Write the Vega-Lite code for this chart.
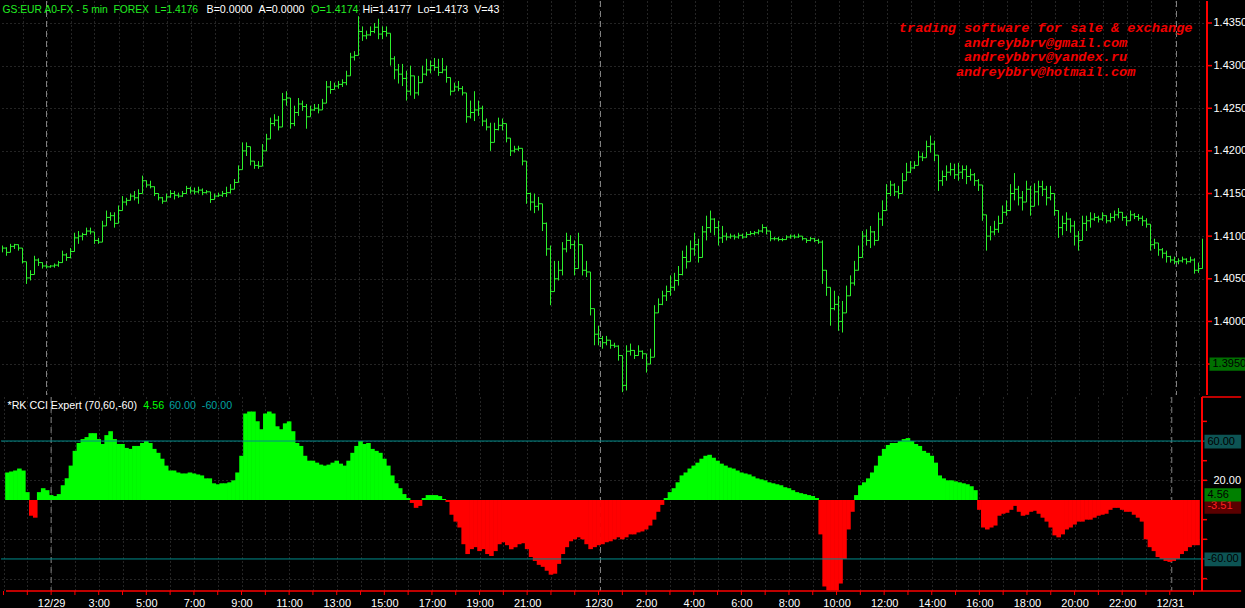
{
"$schema": "https://vega.github.io/schema/vega-lite/v6.json",
"background": "#000000",
"padding": 0,
"spacing": 0,
"config": {"view": {"stroke": null}, "font": "Liberation Sans"},
"datasets": {
"days": [{"t":"2009-12-29T01:00Z"},{"t":"2009-12-30T00:05Z"},{"t":"2009-12-31T00:05Z"}],
"levels": [{"v":60},{"v":-60}],
"pticks": [{"v":1.395},{"v":1.4},{"v":1.405},{"v":1.41},{"v":1.415},{"v":1.42},{"v":1.425},{"v":1.43},{"v":1.435}],
"cticks": [{"v":-80},{"v":-40},{"v":-20},{"v":20},{"v":40},{"v":80}],
"hours": [
{"t":"2009-12-28T23:00Z"},
{"t":"2009-12-29T00:00Z"},{"t":"2009-12-29T01:00Z"},{"t":"2009-12-29T02:00Z"},{"t":"2009-12-29T03:00Z"},{"t":"2009-12-29T04:00Z"},{"t":"2009-12-29T05:00Z"},
{"t":"2009-12-29T06:00Z"},{"t":"2009-12-29T07:00Z"},{"t":"2009-12-29T08:00Z"},{"t":"2009-12-29T09:00Z"},{"t":"2009-12-29T10:00Z"},{"t":"2009-12-29T11:00Z"},
{"t":"2009-12-29T12:00Z"},{"t":"2009-12-29T13:00Z"},{"t":"2009-12-29T14:00Z"},{"t":"2009-12-29T15:00Z"},{"t":"2009-12-29T16:00Z"},{"t":"2009-12-29T17:00Z"},
{"t":"2009-12-29T18:00Z"},{"t":"2009-12-29T19:00Z"},{"t":"2009-12-29T20:00Z"},{"t":"2009-12-29T21:00Z"},{"t":"2009-12-29T22:00Z"},{"t":"2009-12-29T23:00Z"},
{"t":"2009-12-30T00:00Z"},{"t":"2009-12-30T01:00Z"},{"t":"2009-12-30T02:00Z"},{"t":"2009-12-30T03:00Z"},{"t":"2009-12-30T04:00Z"},{"t":"2009-12-30T05:00Z"},
{"t":"2009-12-30T06:00Z"},{"t":"2009-12-30T07:00Z"},{"t":"2009-12-30T08:00Z"},{"t":"2009-12-30T09:00Z"},{"t":"2009-12-30T10:00Z"},{"t":"2009-12-30T11:00Z"},
{"t":"2009-12-30T12:00Z"},{"t":"2009-12-30T13:00Z"},{"t":"2009-12-30T14:00Z"},{"t":"2009-12-30T15:00Z"},{"t":"2009-12-30T16:00Z"},{"t":"2009-12-30T17:00Z"},
{"t":"2009-12-30T18:00Z"},{"t":"2009-12-30T19:00Z"},{"t":"2009-12-30T20:00Z"},{"t":"2009-12-30T21:00Z"},{"t":"2009-12-30T22:00Z"},{"t":"2009-12-30T23:00Z"},
{"t":"2009-12-31T00:00Z"},{"t":"2009-12-31T01:00Z"}
],
"bars": [
{"t":"2009-12-28T23:10Z","l":1.4081,"h":1.4089,"c":1.4086,"cci":28},
{"t":"2009-12-28T23:20Z","l":1.4077,"h":1.4087,"c":1.4081,"cci":29},
{"t":"2009-12-28T23:30Z","l":1.4083,"h":1.4091,"c":1.4088,"cci":30},
{"t":"2009-12-28T23:40Z","l":1.4085,"h":1.4091,"c":1.4090,"cci":32},
{"t":"2009-12-28T23:50Z","l":1.4083,"h":1.4090,"c":1.4086,"cci":30},
{"t":"2009-12-29T00:00Z","l":1.4068,"h":1.4086,"c":1.4070,"cci":8},
{"t":"2009-12-29T00:10Z","l":1.4044,"h":1.4064,"c":1.4051,"cci":-16},
{"t":"2009-12-29T00:20Z","l":1.4048,"h":1.4060,"c":1.4055,"cci":-18},
{"t":"2009-12-29T00:30Z","l":1.4060,"h":1.4077,"c":1.4072,"cci":8},
{"t":"2009-12-29T00:40Z","l":1.4065,"h":1.4074,"c":1.4069,"cci":12},
{"t":"2009-12-29T00:50Z","l":1.4062,"h":1.4069,"c":1.4065,"cci":10},
{"t":"2009-12-29T01:00Z","l":1.4062,"h":1.4067,"c":1.4064,"cci":5},
{"t":"2009-12-29T01:10Z","l":1.4063,"h":1.4066,"c":1.4065,"cci":4},
{"t":"2009-12-29T01:20Z","l":1.4063,"h":1.4068,"c":1.4066,"cci":6},
{"t":"2009-12-29T01:30Z","l":1.4064,"h":1.4071,"c":1.4069,"cci":15},
{"t":"2009-12-29T01:40Z","l":1.4069,"h":1.4083,"c":1.4078,"cci":22},
{"t":"2009-12-29T01:50Z","l":1.4071,"h":1.4080,"c":1.4075,"cci":35},
{"t":"2009-12-29T02:00Z","l":1.4074,"h":1.4086,"c":1.4082,"cci":50},
{"t":"2009-12-29T02:10Z","l":1.4083,"h":1.4104,"c":1.4098,"cci":58},
{"t":"2009-12-29T02:20Z","l":1.4091,"h":1.4106,"c":1.4100,"cci":62},
{"t":"2009-12-29T02:30Z","l":1.4095,"h":1.4104,"c":1.4102,"cci":64},
{"t":"2009-12-29T02:40Z","l":1.4101,"h":1.4110,"c":1.4106,"cci":68},
{"t":"2009-12-29T02:50Z","l":1.4102,"h":1.4110,"c":1.4105,"cci":68},
{"t":"2009-12-29T03:00Z","l":1.4091,"h":1.4104,"c":1.4095,"cci":62},
{"t":"2009-12-29T03:10Z","l":1.4091,"h":1.4098,"c":1.4093,"cci":57},
{"t":"2009-12-29T03:20Z","l":1.4095,"h":1.4118,"c":1.4112,"cci":66},
{"t":"2009-12-29T03:30Z","l":1.4112,"h":1.4130,"c":1.4122,"cci":70},
{"t":"2009-12-29T03:40Z","l":1.4118,"h":1.4128,"c":1.4124,"cci":62},
{"t":"2009-12-29T03:50Z","l":1.4110,"h":1.4128,"c":1.4115,"cci":57},
{"t":"2009-12-29T04:00Z","l":1.4118,"h":1.4136,"c":1.4130,"cci":57},
{"t":"2009-12-29T04:10Z","l":1.4136,"h":1.4147,"c":1.4140,"cci":53},
{"t":"2009-12-29T04:20Z","l":1.4136,"h":1.4145,"c":1.4142,"cci":52},
{"t":"2009-12-29T04:30Z","l":1.4142,"h":1.4150,"c":1.4147,"cci":55},
{"t":"2009-12-29T04:40Z","l":1.4142,"h":1.4153,"c":1.4145,"cci":55},
{"t":"2009-12-29T04:50Z","l":1.4138,"h":1.4155,"c":1.4150,"cci":58},
{"t":"2009-12-29T05:00Z","l":1.4153,"h":1.4171,"c":1.4165,"cci":60},
{"t":"2009-12-29T05:10Z","l":1.4157,"h":1.4165,"c":1.4160,"cci":58},
{"t":"2009-12-29T05:20Z","l":1.4156,"h":1.4165,"c":1.4158,"cci":52},
{"t":"2009-12-29T05:30Z","l":1.4147,"h":1.4158,"c":1.4150,"cci":48},
{"t":"2009-12-29T05:40Z","l":1.4142,"h":1.4150,"c":1.4145,"cci":42},
{"t":"2009-12-29T05:50Z","l":1.4138,"h":1.4146,"c":1.4141,"cci":35},
{"t":"2009-12-29T06:00Z","l":1.4141,"h":1.4150,"c":1.4146,"cci":30},
{"t":"2009-12-29T06:10Z","l":1.4145,"h":1.4154,"c":1.4150,"cci":30},
{"t":"2009-12-29T06:20Z","l":1.4143,"h":1.4153,"c":1.4148,"cci":28},
{"t":"2009-12-29T06:30Z","l":1.4145,"h":1.4151,"c":1.4147,"cci":27},
{"t":"2009-12-29T06:40Z","l":1.4146,"h":1.4153,"c":1.4150,"cci":27},
{"t":"2009-12-29T06:50Z","l":1.4150,"h":1.4159,"c":1.4156,"cci":28},
{"t":"2009-12-29T07:00Z","l":1.4150,"h":1.4158,"c":1.4153,"cci":27},
{"t":"2009-12-29T07:10Z","l":1.4149,"h":1.4157,"c":1.4152,"cci":26},
{"t":"2009-12-29T07:20Z","l":1.4150,"h":1.4158,"c":1.4154,"cci":25},
{"t":"2009-12-29T07:30Z","l":1.4148,"h":1.4156,"c":1.4151,"cci":22},
{"t":"2009-12-29T07:40Z","l":1.4150,"h":1.4154,"c":1.4152,"cci":22},
{"t":"2009-12-29T07:50Z","l":1.4139,"h":1.4151,"c":1.4143,"cci":17},
{"t":"2009-12-29T08:00Z","l":1.4145,"h":1.4150,"c":1.4147,"cci":16},
{"t":"2009-12-29T08:10Z","l":1.4146,"h":1.4151,"c":1.4148,"cci":17},
{"t":"2009-12-29T08:20Z","l":1.4146,"h":1.4153,"c":1.4150,"cci":17},
{"t":"2009-12-29T08:30Z","l":1.4146,"h":1.4158,"c":1.4151,"cci":18},
{"t":"2009-12-29T08:40Z","l":1.4150,"h":1.4161,"c":1.4155,"cci":20},
{"t":"2009-12-29T08:50Z","l":1.4156,"h":1.4167,"c":1.4163,"cci":28},
{"t":"2009-12-29T09:00Z","l":1.4165,"h":1.4183,"c":1.4178,"cci":45},
{"t":"2009-12-29T09:10Z","l":1.4183,"h":1.4210,"c":1.4200,"cci":88},
{"t":"2009-12-29T09:20Z","l":1.4194,"h":1.4210,"c":1.4205,"cci":90},
{"t":"2009-12-29T09:30Z","l":1.4183,"h":1.4200,"c":1.4188,"cci":90},
{"t":"2009-12-29T09:40Z","l":1.4179,"h":1.4188,"c":1.4183,"cci":80},
{"t":"2009-12-29T09:50Z","l":1.4179,"h":1.4188,"c":1.4182,"cci":72},
{"t":"2009-12-29T10:00Z","l":1.4188,"h":1.4208,"c":1.4200,"cci":88},
{"t":"2009-12-29T10:10Z","l":1.4206,"h":1.4220,"c":1.4214,"cci":90},
{"t":"2009-12-29T10:20Z","l":1.4218,"h":1.4239,"c":1.4232,"cci":88},
{"t":"2009-12-29T10:30Z","l":1.4229,"h":1.4243,"c":1.4236,"cci":75},
{"t":"2009-12-29T10:40Z","l":1.4224,"h":1.4241,"c":1.4228,"cci":72},
{"t":"2009-12-29T10:50Z","l":1.4241,"h":1.4268,"c":1.4260,"cci":78},
{"t":"2009-12-29T11:00Z","l":1.4253,"h":1.4270,"c":1.4262,"cci":80},
{"t":"2009-12-29T11:10Z","l":1.4226,"h":1.4259,"c":1.4232,"cci":70},
{"t":"2009-12-29T11:20Z","l":1.4229,"h":1.4253,"c":1.4245,"cci":58},
{"t":"2009-12-29T11:30Z","l":1.4241,"h":1.4262,"c":1.4255,"cci":55},
{"t":"2009-12-29T11:40Z","l":1.4247,"h":1.4259,"c":1.4252,"cci":45},
{"t":"2009-12-29T11:50Z","l":1.4226,"h":1.4255,"c":1.4240,"cci":40},
{"t":"2009-12-29T12:00Z","l":1.4241,"h":1.4253,"c":1.4248,"cci":40},
{"t":"2009-12-29T12:10Z","l":1.4247,"h":1.4255,"c":1.4250,"cci":38},
{"t":"2009-12-29T12:20Z","l":1.4244,"h":1.4255,"c":1.4248,"cci":36},
{"t":"2009-12-29T12:30Z","l":1.4249,"h":1.4261,"c":1.4256,"cci":35},
{"t":"2009-12-29T12:40Z","l":1.4259,"h":1.4282,"c":1.4275,"cci":36},
{"t":"2009-12-29T12:50Z","l":1.4267,"h":1.4282,"c":1.4272,"cci":38},
{"t":"2009-12-29T13:00Z","l":1.4273,"h":1.4280,"c":1.4276,"cci":40},
{"t":"2009-12-29T13:10Z","l":1.4273,"h":1.4282,"c":1.4278,"cci":37},
{"t":"2009-12-29T13:20Z","l":1.4275,"h":1.4284,"c":1.4280,"cci":35},
{"t":"2009-12-29T13:30Z","l":1.4277,"h":1.4294,"c":1.4288,"cci":40},
{"t":"2009-12-29T13:40Z","l":1.4300,"h":1.4315,"c":1.4310,"cci":48},
{"t":"2009-12-29T13:50Z","l":1.4306,"h":1.4317,"c":1.4312,"cci":55},
{"t":"2009-12-29T14:00Z","l":1.4317,"h":1.4358,"c":1.4340,"cci":60},
{"t":"2009-12-29T14:10Z","l":1.4329,"h":1.4346,"c":1.4335,"cci":57},
{"t":"2009-12-29T14:20Z","l":1.4331,"h":1.4341,"c":1.4336,"cci":58},
{"t":"2009-12-29T14:30Z","l":1.4335,"h":1.4346,"c":1.4340,"cci":52},
{"t":"2009-12-29T14:40Z","l":1.4338,"h":1.4350,"c":1.4345,"cci":50},
{"t":"2009-12-29T14:50Z","l":1.4331,"h":1.4355,"c":1.4337,"cci":48},
{"t":"2009-12-29T15:00Z","l":1.4331,"h":1.4346,"c":1.4340,"cci":42},
{"t":"2009-12-29T15:10Z","l":1.4334,"h":1.4346,"c":1.4338,"cci":35},
{"t":"2009-12-29T15:20Z","l":1.4300,"h":1.4327,"c":1.4308,"cci":25},
{"t":"2009-12-29T15:30Z","l":1.4284,"h":1.4311,"c":1.4295,"cci":17},
{"t":"2009-12-29T15:40Z","l":1.4279,"h":1.4302,"c":1.4290,"cci":12},
{"t":"2009-12-29T15:50Z","l":1.4276,"h":1.4302,"c":1.4285,"cci":6},
{"t":"2009-12-29T16:00Z","l":1.4259,"h":1.4294,"c":1.4270,"cci":2},
{"t":"2009-12-29T16:10Z","l":1.4265,"h":1.4300,"c":1.4288,"cci":-3},
{"t":"2009-12-29T16:20Z","l":1.4261,"h":1.4288,"c":1.4268,"cci":-8},
{"t":"2009-12-29T16:30Z","l":1.4265,"h":1.4288,"c":1.4280,"cci":-6},
{"t":"2009-12-29T16:40Z","l":1.4282,"h":1.4300,"c":1.4290,"cci":2},
{"t":"2009-12-29T16:50Z","l":1.4288,"h":1.4308,"c":1.4295,"cci":5},
{"t":"2009-12-29T17:00Z","l":1.4291,"h":1.4306,"c":1.4300,"cci":5},
{"t":"2009-12-29T17:10Z","l":1.4294,"h":1.4309,"c":1.4298,"cci":5},
{"t":"2009-12-29T17:20Z","l":1.4288,"h":1.4308,"c":1.4292,"cci":4},
{"t":"2009-12-29T17:30Z","l":1.4291,"h":1.4309,"c":1.4295,"cci":1},
{"t":"2009-12-29T17:40Z","l":1.4280,"h":1.4300,"c":1.4286,"cci":-2},
{"t":"2009-12-29T17:50Z","l":1.4265,"h":1.4282,"c":1.4270,"cci":-15},
{"t":"2009-12-29T18:00Z","l":1.4270,"h":1.4280,"c":1.4275,"cci":-22},
{"t":"2009-12-29T18:10Z","l":1.4270,"h":1.4282,"c":1.4273,"cci":-28},
{"t":"2009-12-29T18:20Z","l":1.4265,"h":1.4276,"c":1.4268,"cci":-45},
{"t":"2009-12-29T18:30Z","l":1.4233,"h":1.4253,"c":1.4240,"cci":-55},
{"t":"2009-12-29T18:40Z","l":1.4238,"h":1.4259,"c":1.4245,"cci":-50},
{"t":"2009-12-29T18:50Z","l":1.4235,"h":1.4270,"c":1.4248,"cci":-48},
{"t":"2009-12-29T19:00Z","l":1.4241,"h":1.4259,"c":1.4250,"cci":-52},
{"t":"2009-12-29T19:10Z","l":1.4229,"h":1.4253,"c":1.4235,"cci":-50},
{"t":"2009-12-29T19:20Z","l":1.4224,"h":1.4238,"c":1.4228,"cci":-55},
{"t":"2009-12-29T19:30Z","l":1.4200,"h":1.4233,"c":1.4210,"cci":-57},
{"t":"2009-12-29T19:40Z","l":1.4218,"h":1.4233,"c":1.4225,"cci":-52},
{"t":"2009-12-29T19:50Z","l":1.4224,"h":1.4239,"c":1.4230,"cci":-45},
{"t":"2009-12-29T20:00Z","l":1.4224,"h":1.4238,"c":1.4232,"cci":-43},
{"t":"2009-12-29T20:10Z","l":1.4210,"h":1.4229,"c":1.4215,"cci":-46},
{"t":"2009-12-29T20:20Z","l":1.4194,"h":1.4208,"c":1.4200,"cci":-50},
{"t":"2009-12-29T20:30Z","l":1.4198,"h":1.4206,"c":1.4202,"cci":-48},
{"t":"2009-12-29T20:40Z","l":1.4200,"h":1.4206,"c":1.4203,"cci":-45},
{"t":"2009-12-29T20:50Z","l":1.4183,"h":1.4202,"c":1.4188,"cci":-44},
{"t":"2009-12-29T21:00Z","l":1.4138,"h":1.4186,"c":1.4150,"cci":-50},
{"t":"2009-12-29T21:10Z","l":1.4130,"h":1.4151,"c":1.4140,"cci":-58},
{"t":"2009-12-29T21:20Z","l":1.4127,"h":1.4150,"c":1.4135,"cci":-62},
{"t":"2009-12-29T21:30Z","l":1.4130,"h":1.4146,"c":1.4138,"cci":-66},
{"t":"2009-12-29T21:40Z","l":1.4106,"h":1.4136,"c":1.4115,"cci":-68},
{"t":"2009-12-29T21:50Z","l":1.4077,"h":1.4116,"c":1.4085,"cci":-72},
{"t":"2009-12-29T22:00Z","l":1.4019,"h":1.4089,"c":1.4035,"cci":-76},
{"t":"2009-12-29T22:10Z","l":1.4036,"h":1.4071,"c":1.4050,"cci":-75},
{"t":"2009-12-29T22:20Z","l":1.4048,"h":1.4071,"c":1.4060,"cci":-65},
{"t":"2009-12-29T22:30Z","l":1.4054,"h":1.4093,"c":1.4085,"cci":-55},
{"t":"2009-12-29T22:40Z","l":1.4081,"h":1.4104,"c":1.4095,"cci":-48},
{"t":"2009-12-29T22:50Z","l":1.4085,"h":1.4101,"c":1.4090,"cci":-42},
{"t":"2009-12-29T23:00Z","l":1.4054,"h":1.4095,"c":1.4062,"cci":-40},
{"t":"2009-12-29T23:10Z","l":1.4069,"h":1.4104,"c":1.4090,"cci":-38},
{"t":"2009-12-29T23:20Z","l":1.4054,"h":1.4086,"c":1.4060,"cci":-40},
{"t":"2009-12-29T23:30Z","l":1.4052,"h":1.4071,"c":1.4058,"cci":-45},
{"t":"2009-12-29T23:40Z","l":1.4007,"h":1.4054,"c":1.4015,"cci":-50},
{"t":"2009-12-29T23:50Z","l":1.3972,"h":1.4013,"c":1.3985,"cci":-48},
{"t":"2009-12-30T00:00Z","l":1.3972,"h":1.3995,"c":1.3980,"cci":-46},
{"t":"2009-12-30T00:10Z","l":1.3968,"h":1.3983,"c":1.3975,"cci":-45},
{"t":"2009-12-30T00:20Z","l":1.3972,"h":1.3983,"c":1.3978,"cci":-43},
{"t":"2009-12-30T00:30Z","l":1.3968,"h":1.3978,"c":1.3972,"cci":-42},
{"t":"2009-12-30T00:40Z","l":1.3969,"h":1.3975,"c":1.3971,"cci":-40},
{"t":"2009-12-30T00:50Z","l":1.3954,"h":1.3972,"c":1.3960,"cci":-38},
{"t":"2009-12-30T01:00Z","l":1.3917,"h":1.3948,"c":1.3925,"cci":-40},
{"t":"2009-12-30T01:10Z","l":1.3919,"h":1.3972,"c":1.3965,"cci":-38},
{"t":"2009-12-30T01:20Z","l":1.3960,"h":1.3974,"c":1.3966,"cci":-35},
{"t":"2009-12-30T01:30Z","l":1.3956,"h":1.3966,"c":1.3960,"cci":-35},
{"t":"2009-12-30T01:40Z","l":1.3960,"h":1.3972,"c":1.3965,"cci":-33},
{"t":"2009-12-30T01:50Z","l":1.3956,"h":1.3966,"c":1.3962,"cci":-32},
{"t":"2009-12-30T02:00Z","l":1.3940,"h":1.3960,"c":1.3950,"cci":-30},
{"t":"2009-12-30T02:10Z","l":1.3954,"h":1.3968,"c":1.3958,"cci":-26},
{"t":"2009-12-30T02:20Z","l":1.3966,"h":1.4019,"c":1.4010,"cci":-20},
{"t":"2009-12-30T02:30Z","l":1.4011,"h":1.4027,"c":1.4020,"cci":-12},
{"t":"2009-12-30T02:40Z","l":1.4019,"h":1.4036,"c":1.4030,"cci":-5},
{"t":"2009-12-30T02:50Z","l":1.4024,"h":1.4042,"c":1.4035,"cci":2},
{"t":"2009-12-30T03:00Z","l":1.4030,"h":1.4054,"c":1.4040,"cci":8},
{"t":"2009-12-30T03:10Z","l":1.4036,"h":1.4057,"c":1.4048,"cci":12},
{"t":"2009-12-30T03:20Z","l":1.4042,"h":1.4065,"c":1.4055,"cci":18},
{"t":"2009-12-30T03:30Z","l":1.4054,"h":1.4083,"c":1.4075,"cci":25},
{"t":"2009-12-30T03:40Z","l":1.4062,"h":1.4089,"c":1.4070,"cci":28},
{"t":"2009-12-30T03:50Z","l":1.4071,"h":1.4095,"c":1.4085,"cci":32},
{"t":"2009-12-30T04:00Z","l":1.4077,"h":1.4104,"c":1.4090,"cci":35},
{"t":"2009-12-30T04:10Z","l":1.4069,"h":1.4097,"c":1.4075,"cci":38},
{"t":"2009-12-30T04:20Z","l":1.4083,"h":1.4112,"c":1.4105,"cci":42},
{"t":"2009-12-30T04:30Z","l":1.4095,"h":1.4124,"c":1.4110,"cci":45},
{"t":"2009-12-30T04:40Z","l":1.4104,"h":1.4130,"c":1.4120,"cci":46},
{"t":"2009-12-30T04:50Z","l":1.4101,"h":1.4121,"c":1.4110,"cci":43},
{"t":"2009-12-30T05:00Z","l":1.4089,"h":1.4118,"c":1.4098,"cci":40},
{"t":"2009-12-30T05:10Z","l":1.4092,"h":1.4112,"c":1.4100,"cci":37},
{"t":"2009-12-30T05:20Z","l":1.4095,"h":1.4104,"c":1.4099,"cci":35},
{"t":"2009-12-30T05:30Z","l":1.4097,"h":1.4103,"c":1.4100,"cci":33},
{"t":"2009-12-30T05:40Z","l":1.4096,"h":1.4102,"c":1.4099,"cci":32},
{"t":"2009-12-30T05:50Z","l":1.4097,"h":1.4104,"c":1.4101,"cci":30},
{"t":"2009-12-30T06:00Z","l":1.4097,"h":1.4103,"c":1.4099,"cci":28},
{"t":"2009-12-30T06:10Z","l":1.4098,"h":1.4105,"c":1.4102,"cci":27},
{"t":"2009-12-30T06:20Z","l":1.4101,"h":1.4106,"c":1.4103,"cci":26},
{"t":"2009-12-30T06:30Z","l":1.4101,"h":1.4106,"c":1.4104,"cci":24},
{"t":"2009-12-30T06:40Z","l":1.4102,"h":1.4108,"c":1.4106,"cci":22},
{"t":"2009-12-30T06:50Z","l":1.4104,"h":1.4114,"c":1.4110,"cci":21},
{"t":"2009-12-30T07:00Z","l":1.4102,"h":1.4111,"c":1.4106,"cci":20},
{"t":"2009-12-30T07:10Z","l":1.4094,"h":1.4101,"c":1.4097,"cci":18},
{"t":"2009-12-30T07:20Z","l":1.4095,"h":1.4099,"c":1.4097,"cci":17},
{"t":"2009-12-30T07:30Z","l":1.4094,"h":1.4099,"c":1.4096,"cci":16},
{"t":"2009-12-30T07:40Z","l":1.4094,"h":1.4098,"c":1.4096,"cci":15},
{"t":"2009-12-30T07:50Z","l":1.4096,"h":1.4101,"c":1.4099,"cci":13},
{"t":"2009-12-30T08:00Z","l":1.4097,"h":1.4102,"c":1.4100,"cci":12},
{"t":"2009-12-30T08:10Z","l":1.4097,"h":1.4102,"c":1.4099,"cci":10},
{"t":"2009-12-30T08:20Z","l":1.4098,"h":1.4103,"c":1.4100,"cci":8},
{"t":"2009-12-30T08:30Z","l":1.4095,"h":1.4099,"c":1.4097,"cci":7},
{"t":"2009-12-30T08:40Z","l":1.4092,"h":1.4097,"c":1.4095,"cci":6},
{"t":"2009-12-30T08:50Z","l":1.4094,"h":1.4099,"c":1.4097,"cci":5},
{"t":"2009-12-30T09:00Z","l":1.4093,"h":1.4098,"c":1.4095,"cci":4},
{"t":"2009-12-30T09:10Z","l":1.4091,"h":1.4097,"c":1.4093,"cci":2},
{"t":"2009-12-30T09:20Z","l":1.4044,"h":1.4095,"c":1.4060,"cci":-35},
{"t":"2009-12-30T09:30Z","l":1.4030,"h":1.4060,"c":1.4040,"cci":-88},
{"t":"2009-12-30T09:40Z","l":1.3995,"h":1.4036,"c":1.4015,"cci":-92},
{"t":"2009-12-30T09:50Z","l":1.4013,"h":1.4036,"c":1.4020,"cci":-92},
{"t":"2009-12-30T10:00Z","l":1.3989,"h":1.4030,"c":1.4000,"cci":-92},
{"t":"2009-12-30T10:10Z","l":1.3987,"h":1.4024,"c":1.4010,"cci":-85},
{"t":"2009-12-30T10:20Z","l":1.4019,"h":1.4042,"c":1.4030,"cci":-60},
{"t":"2009-12-30T10:30Z","l":1.4030,"h":1.4054,"c":1.4045,"cci":-30},
{"t":"2009-12-30T10:40Z","l":1.4042,"h":1.4071,"c":1.4060,"cci":-12},
{"t":"2009-12-30T10:50Z","l":1.4060,"h":1.4089,"c":1.4075,"cci":5},
{"t":"2009-12-30T11:00Z","l":1.4083,"h":1.4106,"c":1.4100,"cci":15},
{"t":"2009-12-30T11:10Z","l":1.4089,"h":1.4108,"c":1.4095,"cci":18},
{"t":"2009-12-30T11:20Z","l":1.4086,"h":1.4112,"c":1.4105,"cci":22},
{"t":"2009-12-30T11:30Z","l":1.4089,"h":1.4106,"c":1.4095,"cci":28},
{"t":"2009-12-30T11:40Z","l":1.4101,"h":1.4128,"c":1.4120,"cci":35},
{"t":"2009-12-30T11:50Z","l":1.4112,"h":1.4142,"c":1.4130,"cci":45},
{"t":"2009-12-30T12:00Z","l":1.4139,"h":1.4161,"c":1.4150,"cci":52},
{"t":"2009-12-30T12:10Z","l":1.4147,"h":1.4165,"c":1.4160,"cci":56},
{"t":"2009-12-30T12:20Z","l":1.4147,"h":1.4162,"c":1.4152,"cci":58},
{"t":"2009-12-30T12:30Z","l":1.4144,"h":1.4159,"c":1.4150,"cci":58},
{"t":"2009-12-30T12:40Z","l":1.4153,"h":1.4174,"c":1.4165,"cci":60},
{"t":"2009-12-30T12:50Z","l":1.4167,"h":1.4186,"c":1.4175,"cci":62},
{"t":"2009-12-30T13:00Z","l":1.4174,"h":1.4188,"c":1.4180,"cci":63},
{"t":"2009-12-30T13:10Z","l":1.4179,"h":1.4188,"c":1.4183,"cci":60},
{"t":"2009-12-30T13:20Z","l":1.4186,"h":1.4200,"c":1.4193,"cci":57},
{"t":"2009-12-30T13:30Z","l":1.4188,"h":1.4198,"c":1.4192,"cci":55},
{"t":"2009-12-30T13:40Z","l":1.4194,"h":1.4212,"c":1.4205,"cci":50},
{"t":"2009-12-30T13:50Z","l":1.4198,"h":1.4218,"c":1.4208,"cci":48},
{"t":"2009-12-30T14:00Z","l":1.4188,"h":1.4212,"c":1.4195,"cci":45},
{"t":"2009-12-30T14:10Z","l":1.4153,"h":1.4188,"c":1.4165,"cci":38},
{"t":"2009-12-30T14:20Z","l":1.4159,"h":1.4177,"c":1.4170,"cci":25},
{"t":"2009-12-30T14:30Z","l":1.4165,"h":1.4183,"c":1.4175,"cci":22},
{"t":"2009-12-30T14:40Z","l":1.4171,"h":1.4186,"c":1.4178,"cci":20},
{"t":"2009-12-30T14:50Z","l":1.4167,"h":1.4185,"c":1.4172,"cci":20},
{"t":"2009-12-30T15:00Z","l":1.4165,"h":1.4186,"c":1.4175,"cci":19},
{"t":"2009-12-30T15:10Z","l":1.4167,"h":1.4183,"c":1.4178,"cci":18},
{"t":"2009-12-30T15:20Z","l":1.4161,"h":1.4183,"c":1.4170,"cci":17},
{"t":"2009-12-30T15:30Z","l":1.4165,"h":1.4179,"c":1.4172,"cci":16},
{"t":"2009-12-30T15:40Z","l":1.4159,"h":1.4174,"c":1.4165,"cci":14},
{"t":"2009-12-30T15:50Z","l":1.4153,"h":1.4167,"c":1.4160,"cci":10},
{"t":"2009-12-30T16:00Z","l":1.4118,"h":1.4153,"c":1.4125,"cci":-10},
{"t":"2009-12-30T16:10Z","l":1.4083,"h":1.4118,"c":1.4100,"cci":-28},
{"t":"2009-12-30T16:20Z","l":1.4095,"h":1.4112,"c":1.4105,"cci":-30},
{"t":"2009-12-30T16:30Z","l":1.4101,"h":1.4118,"c":1.4108,"cci":-28},
{"t":"2009-12-30T16:40Z","l":1.4104,"h":1.4124,"c":1.4115,"cci":-26},
{"t":"2009-12-30T16:50Z","l":1.4118,"h":1.4136,"c":1.4128,"cci":-16},
{"t":"2009-12-30T17:00Z","l":1.4124,"h":1.4142,"c":1.4130,"cci":-14},
{"t":"2009-12-30T17:10Z","l":1.4136,"h":1.4161,"c":1.4150,"cci":-13},
{"t":"2009-12-30T17:20Z","l":1.4142,"h":1.4174,"c":1.4155,"cci":-10},
{"t":"2009-12-30T17:30Z","l":1.4136,"h":1.4159,"c":1.4145,"cci":-6},
{"t":"2009-12-30T17:40Z","l":1.4130,"h":1.4153,"c":1.4140,"cci":-12},
{"t":"2009-12-30T17:50Z","l":1.4142,"h":1.4165,"c":1.4155,"cci":-16},
{"t":"2009-12-30T18:00Z","l":1.4124,"h":1.4159,"c":1.4135,"cci":-15},
{"t":"2009-12-30T18:10Z","l":1.4142,"h":1.4162,"c":1.4152,"cci":-12},
{"t":"2009-12-30T18:20Z","l":1.4136,"h":1.4165,"c":1.4158,"cci":-11},
{"t":"2009-12-30T18:30Z","l":1.4147,"h":1.4165,"c":1.4155,"cci":-14},
{"t":"2009-12-30T18:40Z","l":1.4136,"h":1.4159,"c":1.4145,"cci":-18},
{"t":"2009-12-30T18:50Z","l":1.4142,"h":1.4159,"c":1.4150,"cci":-22},
{"t":"2009-12-30T19:00Z","l":1.4124,"h":1.4147,"c":1.4130,"cci":-28},
{"t":"2009-12-30T19:10Z","l":1.4098,"h":1.4130,"c":1.4110,"cci":-36},
{"t":"2009-12-30T19:20Z","l":1.4101,"h":1.4124,"c":1.4115,"cci":-38},
{"t":"2009-12-30T19:30Z","l":1.4106,"h":1.4128,"c":1.4120,"cci":-35},
{"t":"2009-12-30T19:40Z","l":1.4104,"h":1.4121,"c":1.4112,"cci":-30},
{"t":"2009-12-30T19:50Z","l":1.4089,"h":1.4118,"c":1.4100,"cci":-28},
{"t":"2009-12-30T20:00Z","l":1.4083,"h":1.4106,"c":1.4095,"cci":-25},
{"t":"2009-12-30T20:10Z","l":1.4101,"h":1.4124,"c":1.4115,"cci":-22},
{"t":"2009-12-30T20:20Z","l":1.4106,"h":1.4124,"c":1.4118,"cci":-22},
{"t":"2009-12-30T20:30Z","l":1.4110,"h":1.4128,"c":1.4120,"cci":-20},
{"t":"2009-12-30T20:40Z","l":1.4118,"h":1.4127,"c":1.4122,"cci":-20},
{"t":"2009-12-30T20:50Z","l":1.4116,"h":1.4124,"c":1.4120,"cci":-18},
{"t":"2009-12-30T21:00Z","l":1.4118,"h":1.4128,"c":1.4124,"cci":-16},
{"t":"2009-12-30T21:10Z","l":1.4115,"h":1.4124,"c":1.4118,"cci":-15},
{"t":"2009-12-30T21:20Z","l":1.4116,"h":1.4127,"c":1.4122,"cci":-14},
{"t":"2009-12-30T21:30Z","l":1.4118,"h":1.4130,"c":1.4125,"cci":-10},
{"t":"2009-12-30T21:40Z","l":1.4121,"h":1.4133,"c":1.4128,"cci":-8},
{"t":"2009-12-30T21:50Z","l":1.4118,"h":1.4128,"c":1.4122,"cci":-8},
{"t":"2009-12-30T22:00Z","l":1.4112,"h":1.4124,"c":1.4118,"cci":-10},
{"t":"2009-12-30T22:10Z","l":1.4118,"h":1.4130,"c":1.4125,"cci":-12},
{"t":"2009-12-30T22:20Z","l":1.4120,"h":1.4127,"c":1.4123,"cci":-12},
{"t":"2009-12-30T22:30Z","l":1.4118,"h":1.4126,"c":1.4121,"cci":-15},
{"t":"2009-12-30T22:40Z","l":1.4112,"h":1.4124,"c":1.4118,"cci":-18},
{"t":"2009-12-30T22:50Z","l":1.4110,"h":1.4121,"c":1.4114,"cci":-22},
{"t":"2009-12-30T23:00Z","l":1.4083,"h":1.4101,"c":1.4090,"cci":-40},
{"t":"2009-12-30T23:10Z","l":1.4085,"h":1.4097,"c":1.4092,"cci":-48},
{"t":"2009-12-30T23:20Z","l":1.4077,"h":1.4092,"c":1.4084,"cci":-52},
{"t":"2009-12-30T23:30Z","l":1.4074,"h":1.4086,"c":1.4080,"cci":-58},
{"t":"2009-12-30T23:40Z","l":1.4069,"h":1.4083,"c":1.4076,"cci":-60},
{"t":"2009-12-30T23:50Z","l":1.4069,"h":1.4077,"c":1.4072,"cci":-62},
{"t":"2009-12-31T00:00Z","l":1.4067,"h":1.4076,"c":1.4070,"cci":-63},
{"t":"2009-12-31T00:10Z","l":1.4067,"h":1.4074,"c":1.4071,"cci":-62},
{"t":"2009-12-31T00:20Z","l":1.4069,"h":1.4076,"c":1.4073,"cci":-60},
{"t":"2009-12-31T00:30Z","l":1.4067,"h":1.4074,"c":1.4070,"cci":-55},
{"t":"2009-12-31T00:40Z","l":1.4069,"h":1.4076,"c":1.4072,"cci":-52},
{"t":"2009-12-31T00:50Z","l":1.4056,"h":1.4074,"c":1.4060,"cci":-48},
{"t":"2009-12-31T01:00Z","l":1.4057,"h":1.4069,"c":1.4062,"cci":-46},
{"t":"2009-12-31T01:10Z","l":1.4071,"h":1.4097,"c":1.4085,"cci":-46}
]
},
"vconcat": [
{
"width": 1206, "height": 394,
"layer": [
{"data": {"name": "days"},
 "mark": {"type": "rule", "color": "#808080", "strokeDash": [6, 4], "strokeWidth": 1},
 "encoding": {
  "x": {"field": "t", "type": "temporal",
   "scale": {"type": "utc", "domain": [1262041575000, 1262222475000]},
   "axis": {"title": null, "labels": false, "ticks": false, "domain": false, "grid": true, "gridColor": "#484848", "gridDash": [1, 3], "tickCount": 51}}
 }},
{"data": {"name": "bars"},
 "mark": {"type": "rule", "color": "#2cf02c", "strokeWidth": 1},
 "encoding": {
  "x": {"field": "t", "type": "temporal"},
  "y": {"field": "l", "type": "quantitative",
   "scale": {"domain": [1.39137, 1.43758], "zero": false, "nice": false},
   "axis": {"orient": "right", "title": null, "values": [1.395, 1.4, 1.405, 1.41, 1.415, 1.42, 1.425, 1.43, 1.435], "format": ".4f",
    "labelExpr": "datum.value < 1.397 ? '' : datum.label",
    "labelFont": "Liberation Sans", "labelFontSize": 11, "labelColor": "#ffffff",
    "ticks": false, "tickSize": 0, "labelPadding": 6, "domain": false,
    "grid": true, "gridColor": "#484848", "gridDash": [1, 3]}},
  "y2": {"field": "h"}
 }},
{"data": {"name": "bars"},
 "mark": {"type": "line", "interpolate": "step-after", "color": "#2cf02c", "strokeWidth": 1},
 "encoding": {
  "x": {"field": "t", "type": "temporal"},
  "y": {"field": "c", "type": "quantitative"}
 }},
{"data": {"values": [{}]},
 "mark": {"type": "rule", "color": "#ff0000", "strokeWidth": 2},
 "encoding": {"x": {"datum": 1262222475000, "type": "temporal"}}},
{"data": {"name": "pticks"},
 "mark": {"type": "rule", "color": "#ff0000", "strokeWidth": 1.5},
 "encoding": {
  "x": {"datum": 1262222475000, "type": "temporal"},
  "x2": {"datum": 1262223225000},
  "y": {"field": "v", "type": "quantitative"}
 }},
{"data": {"values": [{}]},
 "mark": {"type": "rect", "color": "#007000"},
 "encoding": {
  "x": {"datum": 1262222850000, "type": "temporal"},
  "x2": {"datum": 1262228400000},
  "y": {"datum": 1.39422, "type": "quantitative"},
  "y2": {"datum": 1.39578}
 }},
{"data": {"values": [{}]},
 "mark": {"type": "text", "align": "left", "baseline": "middle", "font": "Liberation Sans", "fontSize": 11, "color": "#000000"},
 "encoding": {
  "x": {"datum": 1262223300000, "type": "temporal"},
  "y": {"datum": 1.395, "type": "quantitative"},
  "text": {"value": "1.3950"}
 }},
{"data": {"values": [{}]},
 "mark": {"type": "text", "align": "left", "baseline": "alphabetic", "font": "Liberation Sans", "fontSize": 10.3, "color": "#22ee22"},
 "encoding": {
  "x": {"datum": 1262041800000, "type": "temporal"},
  "y": {"datum": 1.43617, "type": "quantitative"},
  "text": {"value": "GS:EUR A0-FX - 5 min\u00a0\u00a0FOREX\u00a0\u00a0L=1.4176"}
 }},
{"data": {"values": [{}]},
 "mark": {"type": "text", "align": "left", "baseline": "alphabetic", "font": "Liberation Sans", "fontSize": 10.7, "color": "#ffffff"},
 "encoding": {
  "x": {"datum": 1262072400000, "type": "temporal"},
  "y": {"datum": 1.43617, "type": "quantitative"},
  "text": {"value": "B=0.0000\u00a0\u00a0A=0.0000"}
 }},
{"data": {"values": [{}]},
 "mark": {"type": "text", "align": "left", "baseline": "alphabetic", "font": "Liberation Sans", "fontSize": 10.7, "color": "#22ee22"},
 "encoding": {
  "x": {"datum": 1262088120000, "type": "temporal"},
  "y": {"datum": 1.43617, "type": "quantitative"},
  "text": {"value": "O=1.4174"}
 }},
{"data": {"values": [{}]},
 "mark": {"type": "text", "align": "left", "baseline": "alphabetic", "font": "Liberation Sans", "fontSize": 10.7, "color": "#ffffff"},
 "encoding": {
  "x": {"datum": 1262095800000, "type": "temporal"},
  "y": {"datum": 1.43617, "type": "quantitative"},
  "text": {"value": "Hi=1.4177\u00a0\u00a0Lo=1.4173\u00a0\u00a0V=43"}
 }},
{"data": {"values": [{}]},
 "mark": {"type": "text", "align": "center", "baseline": "alphabetic", "font": "Liberation Mono", "fontSize": 13.6, "fontWeight": "bold", "fontStyle": "italic", "lineHeight": 14.4, "color": "#f00000"},
 "encoding": {
  "x": {"datum": 1262198280000, "type": "temporal"},
  "y": {"datum": 1.43389, "type": "quantitative"},
  "text": {"value": ["trading software for sale & exchange", "andreybbrv@gmail.com", "andreybbrv@yandex.ru", "andreybbrv@hotmail.com"]}
 }}
]
},
{
"width": 1206, "height": 194,
"layer": [
{"data": {"name": "days"},
 "mark": {"type": "rule", "color": "#808080", "strokeDash": [6, 4], "strokeWidth": 1},
 "encoding": {
  "x": {"field": "t", "type": "temporal",
   "scale": {"type": "utc", "domain": [1262041575000, 1262222475000]},
   "axis": {"orient": "bottom", "title": null, "tickCount": 51,
    "labelColor": "#ffffff", "labelFont": "Liberation Sans", "labelFontSize": 11, "labelOverlap": false, "labelFlush": false,
    "labelExpr": "utcdate(datum.value)==29 ? (utchours(datum.value)==1 ? '12/29' : (utchours(datum.value)%2==1 && utchours(datum.value)<22 ? utchours(datum.value)+':00' : '')) : (utchours(datum.value)==0 ? '12/'+utcdate(datum.value) : (utchours(datum.value)%2==0 ? utchours(datum.value)+':00' : ''))",
    "domain": false, "ticks": false, "tickSize": 0, "labelPadding": 6,
    "grid": true, "gridColor": "#484848", "gridDash": [1, 3]}}
 }},
{"data": {"name": "bars"},
 "mark": {"type": "bar", "width": 4.6},
 "encoding": {
  "x": {"field": "t", "type": "temporal"},
  "y": {"field": "cci", "type": "quantitative",
   "scale": {"domain": [-92.6, 104.8], "zero": false, "nice": false},
   "axis": {"orient": "right", "title": null,
    "values": [-80, -60, -40, -20, 20, 40, 60, 80], "format": ".2f",
    "labelExpr": "abs(datum.value)==20 ? datum.label : ''",
    "labelFont": "Liberation Sans", "labelFontSize": 11, "labelColor": "#ffffff",
    "ticks": false, "tickSize": 0, "labelPadding": 6, "domain": false,
    "grid": true, "gridColor": "#484848", "gridDash": [1, 3]}},
  "color": {"condition": {"test": "datum.cci >= 0", "value": "#00ff00"}, "value": "#ff0000"}
 }},
{"data": {"name": "levels"},
 "mark": {"type": "rule", "color": "#008b8b", "strokeWidth": 1},
 "encoding": {"y": {"field": "v", "type": "quantitative"}}},
{"data": {"values": [{}]},
 "mark": {"type": "rule", "color": "#ff0000", "strokeWidth": 2},
 "encoding": {"x": {"datum": 1262222475000, "type": "temporal"}}},
{"data": {"values": [{}]},
 "mark": {"type": "rule", "color": "#ff0000", "strokeWidth": 1.5},
 "encoding": {
  "x": {"datum": 1262041575000, "type": "temporal"},
  "x2": {"datum": 1262228400000},
  "y": {"datum": -92.6, "type": "quantitative"}
 }},
{"data": {"values": [{}]},
 "mark": {"type": "rule", "color": "#ff0000", "strokeWidth": 1.5},
 "encoding": {
  "x": {"datum": 1262222475000, "type": "temporal"},
  "x2": {"datum": 1262228400000},
  "y": {"datum": 104.8, "type": "quantitative"}
 }},
{"data": {"name": "hours"},
 "mark": {"type": "rule", "color": "#ff0000", "strokeWidth": 1},
 "encoding": {
  "x": {"field": "t", "type": "temporal"},
  "y": {"datum": -92.6, "type": "quantitative"},
  "y2": {"datum": -96.7}
 }},
{"data": {"name": "cticks"},
 "mark": {"type": "rule", "color": "#ff0000", "strokeWidth": 1.5},
 "encoding": {
  "x": {"datum": 1262222475000, "type": "temporal"},
  "x2": {"datum": 1262223225000},
  "y": {"field": "v", "type": "quantitative"}
 }},
{"data": {"values": [{}]},
 "mark": {"type": "rect", "color": "#0d5454"},
 "encoding": {
  "x": {"datum": 1262222850000, "type": "temporal"},
  "x2": {"datum": 1262228400000},
  "y": {"datum": 52.5, "type": "quantitative"},
  "y2": {"datum": 66.5}
 }},
{"data": {"values": [{}]},
 "mark": {"type": "rect", "color": "#0d5454"},
 "encoding": {
  "x": {"datum": 1262222850000, "type": "temporal"},
  "x2": {"datum": 1262228400000},
  "y": {"datum": -53.5, "type": "quantitative"},
  "y2": {"datum": -67.5}
 }},
{"data": {"values": [{}]},
 "mark": {"type": "rect", "color": "#5a0000"},
 "encoding": {
  "x": {"datum": 1262222850000, "type": "temporal"},
  "x2": {"datum": 1262228400000},
  "y": {"datum": -1, "type": "quantitative"},
  "y2": {"datum": -14}
 }},
{"data": {"values": [{}]},
 "mark": {"type": "text", "align": "left", "baseline": "middle", "font": "Liberation Sans", "fontSize": 11, "color": "#ff2020"},
 "encoding": {
  "x": {"datum": 1262223300000, "type": "temporal"},
  "y": {"datum": -6, "type": "quantitative"},
  "text": {"value": "-3.51"}
 }},
{"data": {"values": [{}]},
 "mark": {"type": "rect", "color": "#008000"},
 "encoding": {
  "x": {"datum": 1262222850000, "type": "temporal"},
  "x2": {"datum": 1262228400000},
  "y": {"datum": 12, "type": "quantitative"},
  "y2": {"datum": -1.5}
 }},
{"data": {"values": [{}]},
 "mark": {"type": "text", "align": "left", "baseline": "middle", "font": "Liberation Sans", "fontSize": 11, "color": "#000000"},
 "encoding": {
  "x": {"datum": 1262223300000, "type": "temporal"},
  "y": {"datum": 5.5, "type": "quantitative"},
  "text": {"value": "4.56"}
 }},
{"data": {"values": [{}]},
 "mark": {"type": "text", "align": "left", "baseline": "middle", "font": "Liberation Sans", "fontSize": 11, "color": "#000000"},
 "encoding": {
  "x": {"datum": 1262223300000, "type": "temporal"},
  "y": {"datum": 59.5, "type": "quantitative"},
  "text": {"value": "60.00"}
 }},
{"data": {"values": [{}]},
 "mark": {"type": "text", "align": "left", "baseline": "middle", "font": "Liberation Sans", "fontSize": 11, "color": "#000000"},
 "encoding": {
  "x": {"datum": 1262223300000, "type": "temporal"},
  "y": {"datum": -60.5, "type": "quantitative"},
  "text": {"value": "-60.00"}
 }},
{"data": {"values": [{}]},
 "mark": {"type": "text", "align": "left", "baseline": "alphabetic", "font": "Liberation Sans", "fontSize": 10.7, "color": "#ffffff"},
 "encoding": {
  "x": {"datum": 1262041800000, "type": "temporal"},
  "y": {"datum": 92.1, "type": "quantitative"},
  "text": {"value": "*RK CCI Expert (70,60,-60)"}
 }},
{"data": {"values": [{}]},
 "mark": {"type": "text", "align": "left", "baseline": "alphabetic", "font": "Liberation Sans", "fontSize": 10.7, "color": "#00ff00"},
 "encoding": {
  "x": {"datum": 1262062350000, "type": "temporal"},
  "y": {"datum": 92.1, "type": "quantitative"},
  "text": {"value": "4.56"}
 }},
{"data": {"values": [{}]},
 "mark": {"type": "text", "align": "left", "baseline": "alphabetic", "font": "Liberation Sans", "fontSize": 10.7, "color": "#00a0a0"},
 "encoding": {
  "x": {"datum": 1262066250000, "type": "temporal"},
  "y": {"datum": 92.1, "type": "quantitative"},
  "text": {"value": "60.00\u00a0\u00a0-60.00"}
 }}
]
}
]
}
